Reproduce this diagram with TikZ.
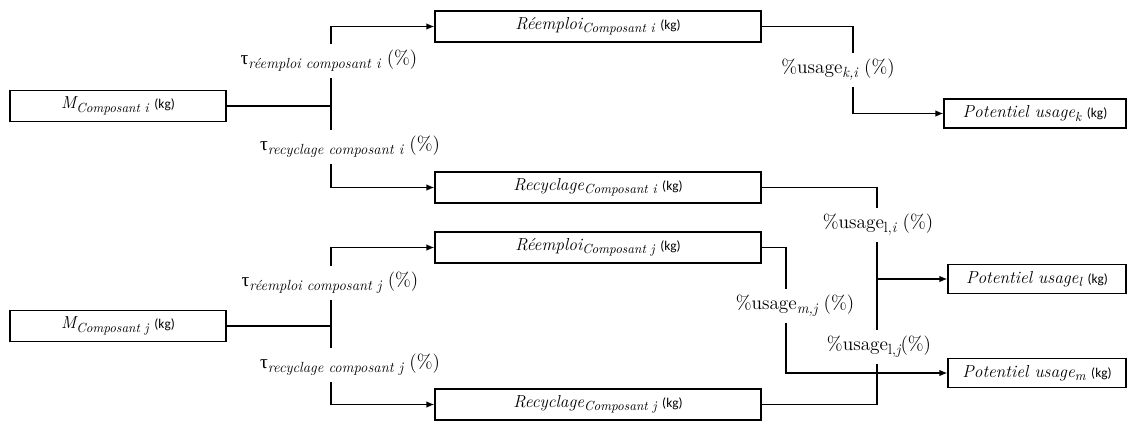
\documentclass[tikz,border=0pt]{standalone}
\usepackage{fontspec}
\usetikzlibrary{arrows.meta}
\newfontfamily\calib{Carlito}
\newfontfamily\libser{Liberation Serif}
\newcommand\boxfont{\fontsize{13}{15}\selectfont}
\newcommand\labfont{\fontsize{14.5}{17}\selectfont}
\newcommand\kgunit{\ {\calib\fontsize{10}{12}\selectfont(kg)}}
\makeatletter
\newcommand\isub[1]{{\@tempdima=0.76\dimexpr\f@size pt\relax
  \raisebox{-0.45ex}{\fontsize{\strip@pt\@tempdima}{1em}\selectfont #1}}}
\makeatother
\tikzset{
  box/.style={draw, line width=1pt, inner sep=0pt, minimum height=23.25pt, font=\boxfont},
  wbox/.style={box, minimum width=162pt},
  cbox/.style={box, minimum width=244.5pt},
  pbox/.style={box, minimum height=21.75pt},
  lab/.style={fill=white, inner xsep=6pt, minimum height=26pt, font=\labfont},
  conn/.style={line width=1pt},
  arr/.style={conn, -{Latex[length=6pt,width=5pt]}}
}
\begin{document}
\begin{tikzpicture}[x=0.75pt,y=-0.75pt]
\useasboundingbox (0,0) rectangle (1128,421);
% boxes
\node[wbox] (Mi) at (118,106) {{\itshape M}\isub{\itshape Composant i}\kgunit};
\node[wbox] (Mj) at (118,326) {{\itshape M}\isub{\itshape Composant j}\kgunit};
\node[cbox] (Ri) at (598,26.5) {{\itshape Réemploi}\isub{\itshape Composant i}\kgunit};
\node[cbox] (Ci) at (598,187.5) {{\itshape Recyclage}\isub{\itshape Composant i}\kgunit};
\node[cbox] (Rj) at (598,247.5) {{\itshape Réemploi}\isub{\itshape Composant j}\kgunit};
\node[cbox] (Cj) at (598,404.5) {{\itshape Recyclage}\isub{\itshape Composant j}\kgunit};
\node[pbox, minimum width=136.5pt] (Pk) at (1035,113.5) {{\itshape Potentiel usage}\isub{\itshape k}\kgunit};
\node[pbox, minimum width=133.5pt] (Pl) at (1037,279) {{\itshape Potentiel usage}\isub{\itshape l}\kgunit};
\node[pbox, minimum width=133.5pt] (Pm) at (1037,373) {{\itshape Potentiel usage}\isub{\itshape m}\kgunit};
% junction points
\coordinate (si) at (331,106);
\coordinate (sj) at (331,326);
\coordinate (kx) at (853,70);
\coordinate (lx) at (877,279);
\coordinate (mx) at (786,308);
% connectors
\draw[conn] (Mi.east) -- (si);
\draw[arr] (si) |- (Ri);
\draw[arr] (si) |- (Ci);
\draw[conn] (Mj.east) -- (sj);
\draw[arr] (sj) |- (Rj);
\draw[arr] (sj) |- (Cj);
\draw[conn] (Ri.east) -| (kx);
\draw[arr] (kx) |- (Pk);
\draw[conn] (Ci.east) -| (lx);
\draw[conn] (Cj.east) -| (lx);
\draw[arr] (lx) -- (Pl);
\draw[conn] (Rj.east) -| (mx);
\draw[arr] (mx) |- (Pm);
% labels
\node[lab] (ti1) at (329,61) {{\libser τ}\isub{\itshape réemploi composant i} (\%)};
\node[lab] (ti2) at (350,147) {{\libser τ}\isub{\itshape recyclage composant i} (\%)};
\node[lab] (tj1) at (330,283) {{\libser τ}\isub{\itshape réemploi composant j} (\%)};
\node[lab] (tj2) at (350,365) {{\libser τ}\isub{\itshape recyclage composant j} (\%)};
\node[lab] (uki) at (838,70) {\%usage\isub{\itshape k,i} (\%)};
\node[lab] (uli) at (878,225) {\%usage\isub{l,\itshape i} (\%)};
\node[lab] (umj) at (795,306) {\%usage\isub{\itshape m,j} (\%)};
\node[lab] (ulj) at (879,347) {\%usage\isub{l,\itshape j}(\%)};
\end{tikzpicture}
\end{document}
